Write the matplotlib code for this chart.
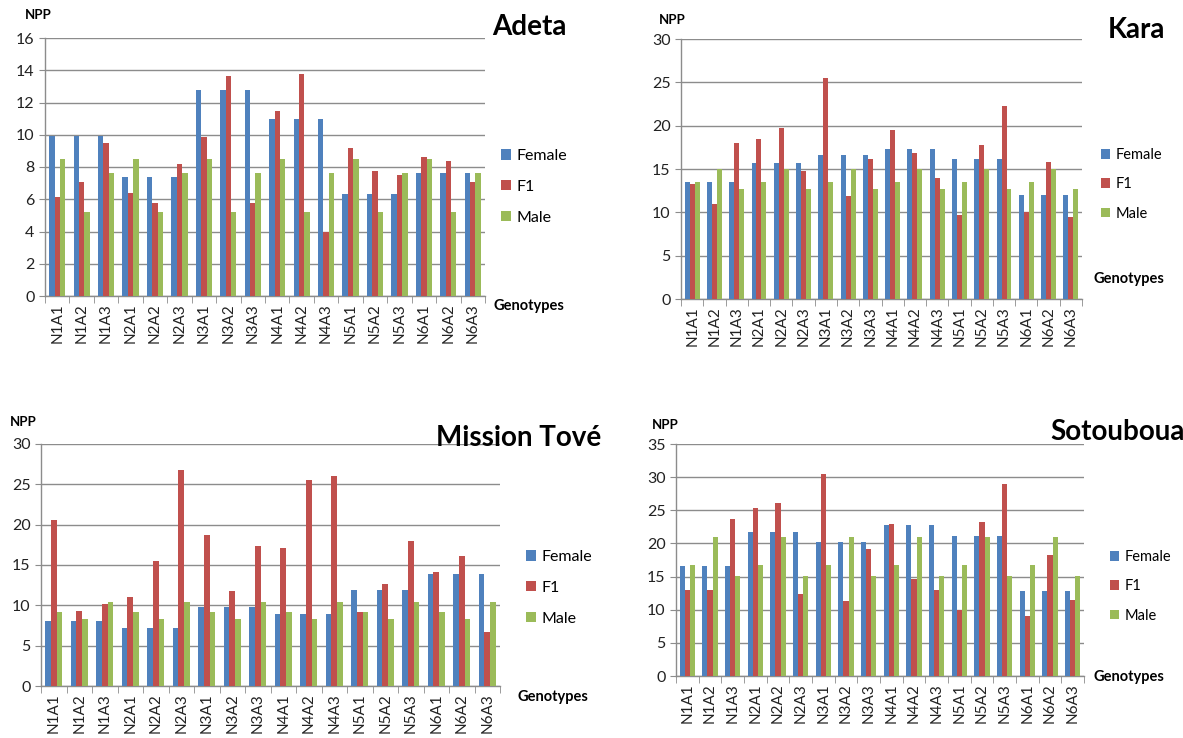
import matplotlib
matplotlib.use("Agg")
import matplotlib.pyplot as plt
import numpy as np
from matplotlib.patches import Patch

plt.rcParams['font.family'] = ['Lato', 'DejaVu Sans']

W, H = 1183, 738

genotypes = ["N1A1", "N1A2", "N1A3", "N2A1", "N2A2", "N2A3",
             "N3A1", "N3A2", "N3A3", "N4A1", "N4A2", "N4A3",
             "N5A1", "N5A2", "N5A3", "N6A1", "N6A2", "N6A3"]
series_names = ["Female", "F1", "Male"]

# --- Adeta ---
adeta_female = [9.9, 9.9, 9.9, 7.4, 7.4, 7.4, 12.8, 12.8, 12.8,
                10.95, 10.95, 10.95, 6.35, 6.35, 6.35, 7.65, 7.65, 7.65]
adeta_f1 = [6.15, 7.1, 9.5, 6.4, 5.75, 8.2, 9.85, 13.65, 5.75,
            11.5, 13.75, 4.0, 9.2, 7.75, 7.5, 8.65, 8.4, 7.05]
adeta_male = [8.5, 5.2, 7.6, 8.5, 5.2, 7.6, 8.5, 5.2, 7.6,
              8.5, 5.2, 7.6, 8.5, 5.2, 7.6, 8.5, 5.2, 7.6]

# --- Kara ---
kara_female = [13.45, 13.45, 13.45, 15.7, 15.7, 15.7, 16.6, 16.6, 16.6,
               17.35, 17.35, 17.35, 16.2, 16.2, 16.2, 12.0, 12.0, 12.0]
kara_f1 = [13.3, 11.0, 17.95, 18.5, 19.75, 14.8, 25.5, 11.85, 16.1,
           19.5, 16.85, 14.0, 9.7, 17.8, 22.3, 10.05, 15.8, 9.5]
kara_male = [13.5, 15.0, 12.65, 13.5, 15.0, 12.65, 13.5, 15.0, 12.65,
             13.5, 15.0, 12.65, 13.5, 15.0, 12.65, 13.5, 15.0, 12.65]

# --- Mission Tove ---
mission_female = [8.1, 8.1, 8.1, 7.25, 7.25, 7.25, 9.85, 9.85, 9.85,
                  8.9, 8.9, 8.9, 11.9, 11.9, 11.9, 13.85, 13.85, 13.85]
mission_f1 = [20.6, 9.35, 10.2, 11.05, 15.5, 26.8, 18.7, 11.8, 17.3,
              17.1, 25.55, 26.0, 9.2, 12.7, 18.0, 14.15, 16.1, 6.75]
mission_male = [9.2, 8.3, 10.45, 9.2, 8.3, 10.45, 9.2, 8.3, 10.45,
                9.2, 8.3, 10.45, 9.2, 8.3, 10.45, 9.2, 8.3, 10.45]

# --- Sotouboua ---
soto_female = [16.6, 16.6, 16.6, 21.7, 21.7, 21.7, 20.25, 20.25, 20.25,
               22.8, 22.8, 22.8, 21.1, 21.1, 21.1, 12.75, 12.75, 12.75]
soto_f1 = [13.0, 13.0, 23.7, 25.4, 26.1, 12.4, 30.5, 11.3, 19.1,
           23.0, 14.65, 12.9, 10.0, 23.2, 28.9, 9.06, 18.25, 11.5]
soto_male = [16.8, 21.0, 15.15, 16.8, 21.0, 15.15, 16.8, 21.0, 15.15,
             16.8, 21.0, 15.15, 16.8, 21.0, 15.15, 16.8, 21.0, 15.15]

colors = ["#4F81BD", "#C0504D", "#9BBB59"]
grid_col = "#8C8C8C"


def fx(x):
    return x / W


def fy(y):
    return 1 - y / H


def draw_panel(fig, data, ymax, step, box, title, title_xy, title_size,
               legend_xy, leg_size, geno_xy, npp_xy):
    left, top, right, bottom = box
    ax = fig.add_axes([fx(left), fy(bottom), (right - left) / W, (bottom - top) / H])
    x = np.arange(len(genotypes))
    w = 1 / 4.5
    for i, vals in enumerate(data):
        ax.bar(x + (i - 1) * w, vals, width=w, color=colors[i], zorder=3)

    ax.set_xlim(-0.5, len(genotypes) - 0.5)
    ax.set_ylim(0, ymax)
    ax.set_yticks(np.arange(0, ymax + 0.1, step))
    ax.yaxis.grid(True, color=grid_col, lw=1.0, zorder=0)
    ax.set_xticks(x)
    ax.set_xticklabels(genotypes, rotation=90, fontsize=11, color="#222222")
    ax.set_xticks(np.arange(-0.5, len(genotypes), 1), minor=True)
    ax.tick_params(axis="x", which="major", length=0, pad=5)
    ax.tick_params(axis="x", which="minor", length=5, color=grid_col, direction="out")
    ax.tick_params(axis="y", length=4, color=grid_col, labelsize=11.5, labelcolor="#222222")
    for s in ["top", "right"]:
        ax.spines[s].set_visible(False)
    for s in ["left", "bottom"]:
        ax.spines[s].set_color(grid_col)
        ax.spines[s].set_linewidth(1.0)

    fig.text(fx(title_xy[0]), fy(title_xy[1]), title, fontsize=title_size,
             fontweight="bold", va="center", ha="left")
    fig.text(fx(npp_xy[0]), fy(npp_xy[1]), "NPP", fontsize=9.5,
             fontweight="bold", va="center", ha="left")
    fig.text(fx(geno_xy[0]), fy(geno_xy[1]), "Genotypes", fontsize=10.5,
             fontweight="bold", va="center", ha="left")

    handles = [Patch(facecolor=c, label=n) for c, n in zip(colors, series_names)]
    fig.legend(handles=handles, loc="upper left",
               bbox_to_anchor=(fx(legend_xy[0]), fy(legend_xy[1])),
               frameon=False, fontsize=leg_size, handlelength=0.65,
               handleheight=0.65, handletextpad=0.35, labelspacing=1.05,
               borderpad=0, borderaxespad=0)
    return ax


fig = plt.figure(figsize=(W / 100, H / 100), dpi=100)

draw_panel(fig, [adeta_female, adeta_f1, adeta_male], 16, 2,
           (45, 38, 485, 296), "Adeta", (492, 27), 20,
           (501, 149), 11.5, (494, 306), (25, 15))
draw_panel(fig, [kara_female, kara_f1, kara_male], 30, 5,
           (681, 39, 1082, 299), "Kara", (1108, 30), 20,
           (1101, 148), 10.5, (1093, 279), (659, 20))
draw_panel(fig, [mission_female, mission_f1, mission_male], 30, 5,
           (41, 444, 500, 686), "Mission Tové", (436, 438), 20,
           (526, 550), 11.5, (517, 697), (10, 422))
draw_panel(fig, [soto_female, soto_f1, soto_male], 35, 5,
           (676, 444, 1084, 676), "Sotouboua", (1050, 432), 20,
           (1110, 550), 10.5, (1094, 677), (652, 425))

fig.savefig("out.png", dpi=100)
